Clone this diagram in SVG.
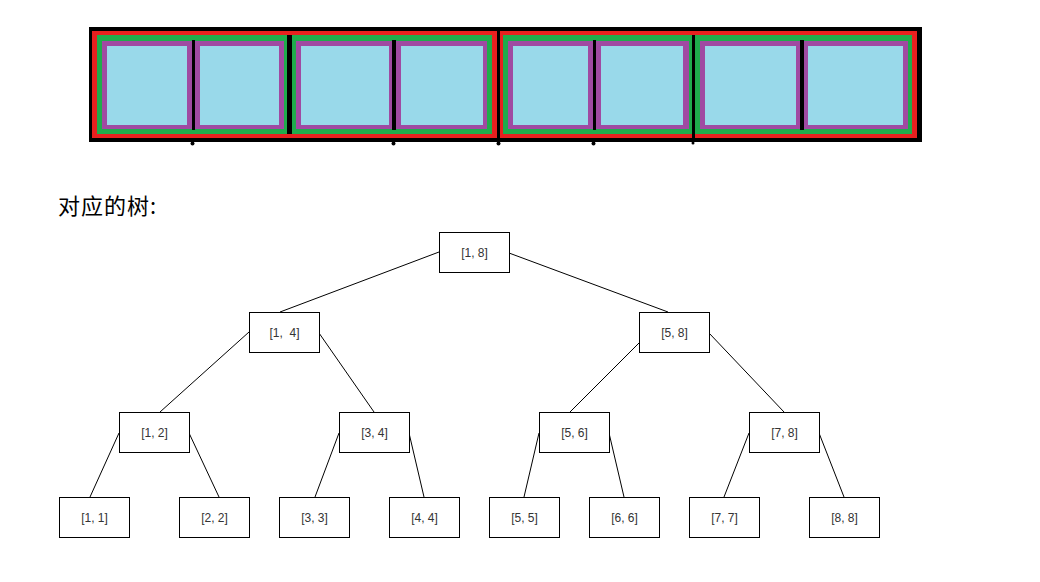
<svg xmlns="http://www.w3.org/2000/svg" width="1040" height="582" viewBox="0 0 1040 582">
<style>
.red{fill:#e8201f}
.green{fill:#1fac4c}
.purple{fill:#a04aa2}
.blue{fill:#99d9ea}
.blk{fill:#000}
.node rect{fill:#fff;stroke:#000;stroke-width:1}
.node text{font-family:"Liberation Sans",Arial,sans-serif;font-size:12px;fill:#333;text-anchor:middle}
#connectors line{stroke:#000;stroke-width:1}
.title{font-family:"Noto Sans CJK SC","Noto Sans",sans-serif;font-size:22px;letter-spacing:1px;fill:#000}
</style>
<rect width="1040" height="582" fill="#fff"/>
<g id="array">
  <rect class="blk" x="89" y="27" width="833" height="115"/>
  <rect class="red" x="92" y="31" width="405" height="107"/>
  <rect class="red" x="499" y="31" width="418" height="107"/>
  <rect class="green" x="97" y="35" width="190" height="99"/>
  <rect class="green" x="292" y="35" width="200" height="99"/>
  <rect class="green" x="503" y="35" width="189" height="99"/>
  <rect class="green" x="695" y="35" width="217" height="99"/>
  <rect class="purple" x="102" y="41" width="90" height="88"/>
  <rect class="purple" x="195" y="41" width="89" height="88"/>
  <rect class="purple" x="296" y="41" width="96" height="88"/>
  <rect class="purple" x="396" y="41" width="91" height="88"/>
  <rect class="purple" x="508" y="41" width="85" height="88"/>
  <rect class="purple" x="596" y="41" width="93" height="88"/>
  <rect class="purple" x="700" y="41" width="100" height="88"/>
  <rect class="purple" x="804" y="41" width="104" height="88"/>
  <rect class="blue" x="107" y="46" width="80" height="79"/>
  <rect class="blue" x="200" y="46" width="79" height="79"/>
  <rect class="blue" x="301" y="46" width="88" height="79"/>
  <rect class="blue" x="401" y="46" width="82" height="79"/>
  <rect class="blue" x="513" y="46" width="75" height="79"/>
  <rect class="blue" x="601" y="46" width="82" height="79"/>
  <rect class="blue" x="705" y="46" width="91" height="79"/>
  <rect class="blue" x="808" y="46" width="95" height="79"/>
  <rect class="blk" x="192" y="40" width="3" height="90"/>
  <rect class="blk" x="287" y="35" width="5" height="99"/>
  <rect class="blk" x="392" y="40" width="4" height="90"/>
  <rect class="blk" x="497" y="27" width="3" height="115"/>
  <rect class="blk" x="593" y="40" width="3" height="90"/>
  <rect class="blk" x="692" y="35" width="3" height="107"/>
  <rect class="blk" x="800" y="40" width="4" height="90"/>
  <circle class="blk" cx="192.5" cy="143.5" r="2"/>
  <circle class="blk" cx="393.5" cy="143.5" r="2"/>
  <circle class="blk" cx="498.5" cy="143.5" r="2"/>
  <circle class="blk" cx="593.5" cy="143.5" r="2"/>
  <circle class="blk" cx="693" cy="143" r="1.5"/>
</g>
<text class="title" x="58" y="214">对应的树:</text>
<g id="connectors">
  <line x1="439" y1="252" x2="280" y2="312"/>
  <line x1="509" y1="253" x2="668" y2="312"/>
  <line x1="249" y1="332" x2="160" y2="412"/>
  <line x1="319" y1="333" x2="374" y2="412"/>
  <line x1="639" y1="343" x2="570" y2="412"/>
  <line x1="709" y1="333" x2="784" y2="412"/>
  <line x1="119" y1="433" x2="90" y2="497"/>
  <line x1="189" y1="433" x2="219" y2="497"/>
  <line x1="339" y1="433" x2="315" y2="497"/>
  <line x1="409" y1="433" x2="424" y2="497"/>
  <line x1="539" y1="433" x2="524" y2="497"/>
  <line x1="609" y1="433" x2="624" y2="497"/>
  <line x1="749" y1="433" x2="724" y2="497"/>
  <line x1="819" y1="433" x2="844" y2="497"/>
</g>
<g id="n18" class="node"><rect x="439.5" y="232.5" width="70" height="40"/><text x="474.5" y="256.5">[1, 8]</text></g>
<g id="n14" class="node"><rect x="249.5" y="312.5" width="70" height="40"/><text x="284.5" y="336.5" xml:space="preserve">[1,  4]</text></g>
<g id="n58" class="node"><rect x="639.5" y="312.5" width="70" height="40"/><text x="674.5" y="336.5">[5, 8]</text></g>
<g id="n12" class="node"><rect x="119.5" y="412.5" width="70" height="40"/><text x="154.5" y="436.5">[1, 2]</text></g>
<g id="n34" class="node"><rect x="339.5" y="412.5" width="70" height="40"/><text x="374.5" y="436.5">[3, 4]</text></g>
<g id="n56" class="node"><rect x="539.5" y="412.5" width="70" height="40"/><text x="574.5" y="436.5">[5, 6]</text></g>
<g id="n78" class="node"><rect x="749.5" y="412.5" width="70" height="40"/><text x="784.5" y="436.5">[7, 8]</text></g>
<g id="n11" class="node"><rect x="59.5" y="497.5" width="70" height="40"/><text x="94.5" y="521.5">[1, 1]</text></g>
<g id="n22" class="node"><rect x="179.5" y="497.5" width="70" height="40"/><text x="214.5" y="521.5">[2, 2]</text></g>
<g id="n33" class="node"><rect x="279.5" y="497.5" width="70" height="40"/><text x="314.5" y="521.5">[3, 3]</text></g>
<g id="n44" class="node"><rect x="389.5" y="497.5" width="70" height="40"/><text x="424.5" y="521.5">[4, 4]</text></g>
<g id="n55" class="node"><rect x="489.5" y="497.5" width="70" height="40"/><text x="524.5" y="521.5">[5, 5]</text></g>
<g id="n66" class="node"><rect x="589.5" y="497.5" width="70" height="40"/><text x="624.5" y="521.5">[6, 6]</text></g>
<g id="n77" class="node"><rect x="689.5" y="497.5" width="70" height="40"/><text x="724.5" y="521.5">[7, 7]</text></g>
<g id="n88" class="node"><rect x="809.5" y="497.5" width="70" height="40"/><text x="844.5" y="521.5">[8, 8]</text></g>
</svg>
